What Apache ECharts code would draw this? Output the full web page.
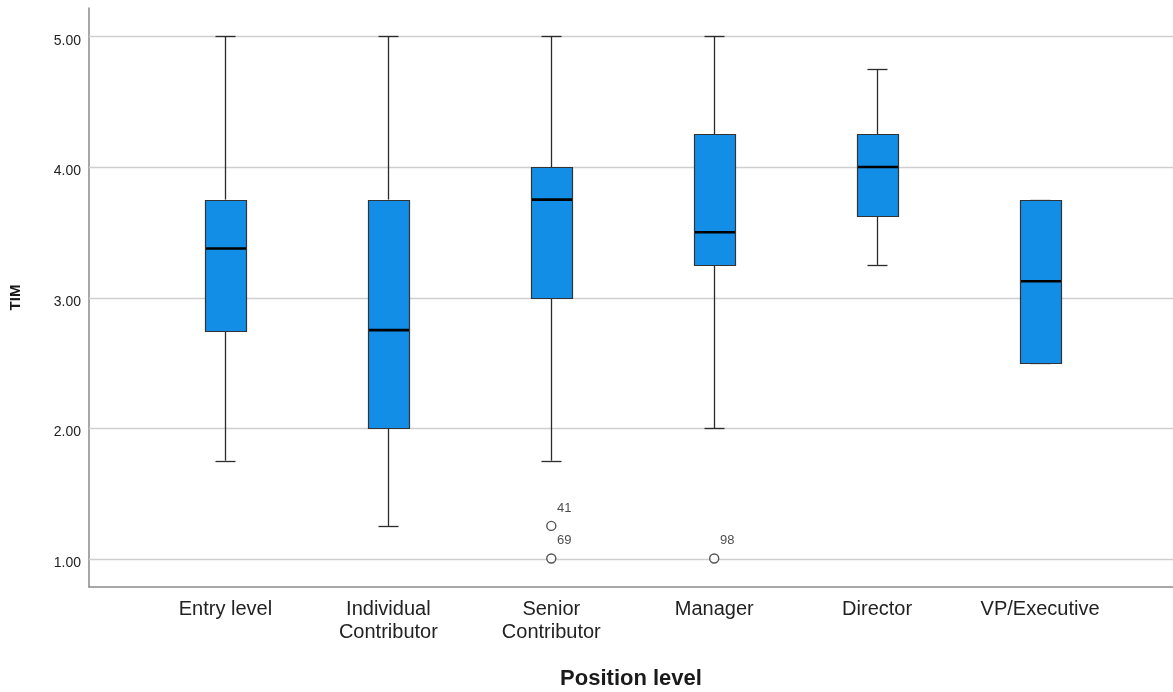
<!DOCTYPE html>
<html>
<head>
<meta charset="utf-8">
<title>TIM by Position level</title>
<script src="https://cdn.jsdelivr.net/npm/echarts@6/dist/echarts.min.js"></script>
<style>
  html, body { margin: 0; padding: 0; background: #ffffff; }
  #chart { width: 1173px; height: 692px; }
</style>
</head>
<body>
<div id="chart"></div>
<script>
// Position levels shown along the x axis
const categories = ['Entry level', 'Individual\nContributor', 'Senior\nContributor', 'Manager', 'Director', 'VP/Executive'];

// Five-number summaries of TIM per position level
const lowerWhisker = [1.75, 1.25, 1.75, 2.00, 3.25, 2.50];
const q1           = [2.75, 2.00, 3.00, 3.25, 3.625, 2.50];
const median       = [3.375, 2.75, 3.75, 3.50, 4.00, 3.125];
const q3           = [3.75, 3.75, 4.00, 4.25, 4.25, 3.75];
const upperWhisker = [5.00, 5.00, 5.00, 5.00, 4.75, 3.75];

// Outlying cases (category, value, case number)
const outlierCategory = ['Senior\nContributor', 'Senior\nContributor', 'Manager'];
const outlierValue    = [1.25, 1.00, 1.00];
const outlierCase     = ['41', '69', '98'];

// Value-axis tick labels
const yTicks = [1, 2, 3, 4, 5];
const yMin = 0.782;
const yMax = 5.218;

const FONT = 'Arial, "Liberation Sans", sans-serif';
const BOX_FILL = '#138ee6';
const INK = '#2b2b2b';

const boxData = categories.map((c, i) => [i, lowerWhisker[i], q1[i], median[i], q3[i], upperWhisker[i]]);
const outlierData = outlierCategory.map((c, i) => [c, outlierValue[i], outlierCase[i]]);

const snap = v => Math.round(v) + 0.5;

function renderBox(params, api) {
  const i = api.value(0);
  const x = api.coord([i, 0])[0];
  const yLow = api.coord([i, api.value(1)])[1];
  const yQ1 = api.coord([i, api.value(2)])[1];
  const yMed = api.coord([i, api.value(3)])[1];
  const yQ3 = api.coord([i, api.value(4)])[1];
  const yHigh = api.coord([i, api.value(5)])[1];
  const boxW = 41;
  const capW = 20;
  const cx = snap(x);
  const lineStyle = { stroke: INK, lineWidth: 1.3 };
  return {
    type: 'group',
    children: [
      { type: 'line', shape: { x1: cx, y1: yHigh, x2: cx, y2: yQ3 }, style: lineStyle },
      { type: 'line', shape: { x1: cx, y1: yQ1, x2: cx, y2: yLow }, style: lineStyle },
      { type: 'line', shape: { x1: cx - capW / 2, y1: snap(yHigh), x2: cx + capW / 2, y2: snap(yHigh) }, style: lineStyle },
      { type: 'line', shape: { x1: cx - capW / 2, y1: snap(yLow), x2: cx + capW / 2, y2: snap(yLow) }, style: lineStyle },
      {
        type: 'rect',
        shape: { x: Math.round(x - boxW / 2) + 0.5, y: snap(yQ3), width: boxW, height: Math.round(yQ1 - yQ3) },
        style: { fill: BOX_FILL, stroke: '#333333', lineWidth: 1.2 }
      },
      { type: 'line', shape: { x1: Math.round(x - boxW / 2) + 1, y1: yMed, x2: Math.round(x + boxW / 2), y2: yMed }, style: { stroke: '#000000', lineWidth: 2.6 } }
    ]
  };
}

function renderGridLine(params, api) {
  const cs = params.coordSys;
  const y = snap(api.coord([0, api.value(1)])[1]);
  return {
    type: 'line',
    shape: { x1: cs.x, y1: y, x2: cs.x + cs.width, y2: y },
    style: { stroke: '#cfcfcf', lineWidth: 1.6 }
  };
}

const chart = echarts.init(document.getElementById('chart'), null, { renderer: 'canvas' });

chart.setOption({
  backgroundColor: '#ffffff',
  animation: false,
  textStyle: { fontFamily: FONT },
  grid: [
    { left: 89, right: 0, top: 8, bottom: 105, containLabel: false, outerBoundsMode: 'none' },
    { left: 144, right: 51.5, top: 8, bottom: 105, containLabel: false, outerBoundsMode: 'none' }
  ],
  xAxis: [
    {
      gridIndex: 0,
      type: 'value',
      min: 0,
      max: 1,
      axisLine: { show: true, lineStyle: { color: '#8a8a8a', width: 1.5 } },
      axisTick: { show: false },
      axisLabel: { show: false },
      splitLine: { show: false },
      name: 'Position level',
      nameLocation: 'middle',
      nameGap: 81,
      nameTextStyle: { fontFamily: FONT, fontSize: 22, fontWeight: 'bold', color: '#1a1a1a' }
    },
    {
      gridIndex: 1,
      type: 'category',
      data: categories,
      boundaryGap: true,
      axisLine: { show: false },
      axisTick: { show: false },
      axisLabel: { interval: 0, fontFamily: FONT, fontSize: 20, lineHeight: 23, color: '#222222', margin: 11 },
      splitLine: { show: false }
    }
  ],
  yAxis: [
    {
      gridIndex: 0,
      type: 'value',
      min: yMin,
      max: yMax,
      axisLine: { show: true, lineStyle: { color: '#8a8a8a', width: 1.5 } },
      axisTick: { show: false },
      axisLabel: {
        customValues: yTicks,
        formatter: v => v.toFixed(2),
        fontFamily: FONT,
        fontSize: 14,
        color: '#222222',
        margin: 8,
        verticalAlign: 'top',
        lineHeight: 9
      },
      splitLine: { show: false },
      name: 'TIM',
      nameLocation: 'middle',
      nameGap: 66,
      nameTextStyle: { fontFamily: FONT, fontSize: 15, fontWeight: 'bold', color: '#1a1a1a' }
    },
    {
      gridIndex: 1,
      type: 'value',
      min: yMin,
      max: yMax,
      show: false
    }
  ],
  series: [
    {
      name: 'grid lines',
      type: 'custom',
      xAxisIndex: 0,
      yAxisIndex: 0,
      silent: true,
      z: 1,
      renderItem: renderGridLine,
      data: yTicks.map(v => [0, v])
    },
    {
      name: 'TIM',
      type: 'custom',
      xAxisIndex: 1,
      yAxisIndex: 1,
      z: 3,
      renderItem: renderBox,
      encode: { x: 0, y: [1, 2, 3, 4, 5] },
      data: boxData
    },
    {
      name: 'Outliers',
      type: 'scatter',
      xAxisIndex: 1,
      yAxisIndex: 1,
      z: 4,
      symbol: 'circle',
      symbolSize: 9,
      itemStyle: { color: '#ffffff', borderColor: INK, borderWidth: 1.4 },
      label: {
        show: true,
        formatter: p => p.value[2],
        position: [11, -19],
        align: 'left',
        verticalAlign: 'top',
        fontFamily: FONT,
        fontSize: 13,
        color: '#222222'
      },
      data: outlierData
    }
  ]
});
</script>
</body>
</html>
